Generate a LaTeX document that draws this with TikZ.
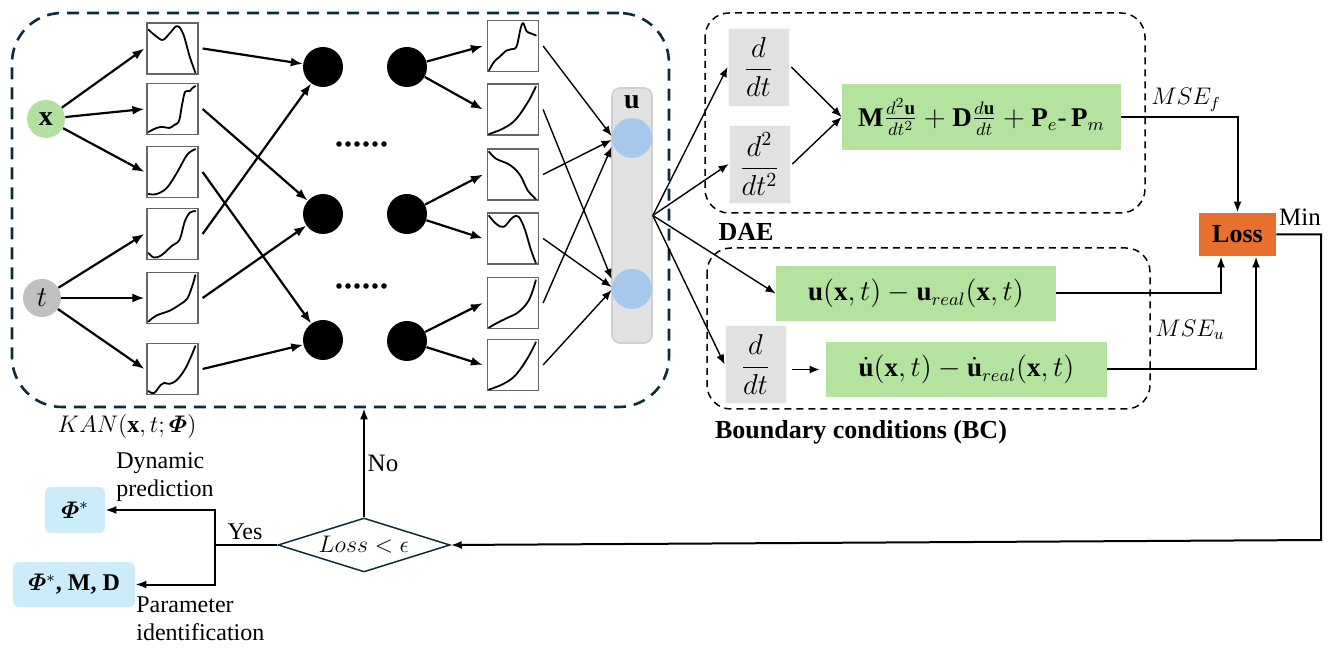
\documentclass[tikz,border=0pt]{standalone}
\usepackage{amsmath,bm}
\usepackage{fontspec}
\setmainfont{Liberation Serif}
\usetikzlibrary{arrows.meta,shapes.geometric,calc}
\definecolor{kgreen}{HTML}{B4E3A0}
\definecolor{xgreen}{HTML}{B3E0A0}
\definecolor{tgray}{HTML}{C0C0C0}
\definecolor{bgray}{HTML}{E1E1E1}
\definecolor{cgray}{HTML}{CFCFCF}
\definecolor{ublue}{HTML}{A6C8EC}
\definecolor{lossor}{HTML}{E8702F}
\definecolor{phiblue}{HTML}{CCECFA}
\definecolor{navy}{HTML}{0E2A3B}
\newcommand\fcurve[2]{\begin{scope}[shift={(#1.south west)},x=25.5pt,y=25.5pt]\draw[kc] plot[smooth,tension=0.6] coordinates {#2};\end{scope}}
\begin{document}
\begin{tikzpicture}[x=0.5pt,y=-0.5pt,
  every node/.style={font=\fontsize{12}{14}\selectfont, inner sep=0pt},
  tarr/.style={line width=1.1pt,-{Latex[length=6pt,width=4.5pt]}},
  narr/.style={line width=0.7pt,-{Latex[length=5pt,width=4pt]}},
  carr/.style={line width=1pt,-{Latex[length=5.5pt,width=4pt]}},
  plainline/.style={line width=1pt},
  fbox/.style={draw=black!60,line width=0.6pt,minimum size=25.5pt,fill=white},
  kc/.style={line width=0.9pt,line cap=round,line join=round},
  bdot/.style={circle,fill=black,minimum size=20pt},
  udot/.style={circle,fill=ublue,minimum size=20pt},
  incirc/.style={circle,minimum size=19pt,font=\fontsize{14}{16}\selectfont},
  gbox/.style={fill=bgray,draw=bgray!85!black!10!white,line width=0.4pt,minimum width=30.5pt,minimum height=39pt,font=\fontsize{14}{16}\selectfont},
  grbox/.style={fill=kgreen,minimum width=140pt,minimum height=27.5pt,font=\fontsize{13.5}{15}\selectfont},
  dashbox/.style={draw,dashed,dash pattern=on 3.5pt off 2.5pt,line width=0.75pt,rounded corners=12pt},
  boldlab/.style={font=\fontsize{13}{15}\selectfont\bfseries}
]
\useasboundingbox (0,0) rectangle (1332,651);

% KAN box
\node[draw=navy,line width=1.3pt,dash pattern=on 6pt off 4pt,rounded corners=25pt,
  minimum width=328.5pt,minimum height=197pt] (kan) at (340.5,210) {};

% inputs
\node[incirc,fill=xgreen] (x) at (46,119) {$\mathbf{x}$};
\node[incirc,fill=tgray] (t) at (42,298) {$t$};

% first function column
\node[fbox] (f1) at (172.5,48.5) {};
\node[fbox] (f2) at (172.5,109) {};
\node[fbox] (f3) at (172.5,172) {};
\node[fbox] (f4) at (172.5,234) {};
\node[fbox] (f5) at (172.5,298) {};
\node[fbox] (f6) at (172.5,369) {};
\fcurve{f1}{(0.04,0.88) (0.18,0.76) (0.32,0.68) (0.45,0.8) (0.6,0.95) (0.72,0.8) (0.85,0.35) (0.96,0.04)}
\fcurve{f2}{(0.04,0.06) (0.2,0.14) (0.32,0.16) (0.45,0.14) (0.55,0.2) (0.64,0.28) (0.7,0.6) (0.76,0.85) (0.85,0.86) (0.9,0.92) (0.96,0.96)}
\fcurve{f3}{(0.04,0.08) (0.2,0.08) (0.4,0.2) (0.6,0.5) (0.8,0.85) (0.96,0.96)}
\fcurve{f4}{(0.04,0.14) (0.15,0.05) (0.3,0.1) (0.5,0.28) (0.65,0.4) (0.75,0.75) (0.85,0.93) (0.96,0.96)}
\fcurve{f5}{(0.04,0.05) (0.2,0.17) (0.45,0.26) (0.65,0.38) (0.8,0.5) (0.9,0.75) (0.96,0.96)}
\fcurve{f6}{(0.04,0.08) (0.15,0.04) (0.28,0.2) (0.35,0.24) (0.45,0.22) (0.6,0.3) (0.78,0.55) (0.96,0.96)}

\draw[tarr] (x) -- ([xshift=-1pt]f1.west);
\draw[tarr] (x) -- ([xshift=-1pt]f2.west);
\draw[tarr] (x) -- ([xshift=-1pt]f3.west);
\draw[tarr] (t) -- ([xshift=-1pt]f4.west);
\draw[tarr] (t) -- ([xshift=-1pt]f5.west);
\draw[tarr] (t) -- ([xshift=-1pt]f6.west);

% hidden nodes
\node[bdot] (c1) at (323,67) {};
\node[bdot] (c2) at (323,214) {};
\node[bdot] (c3) at (323,340) {};
\node[bdot] (d1) at (407,67) {};
\node[bdot] (d2) at (407,214) {};
\node[bdot] (d3) at (407,341) {};
\foreach \i in {0,...,5} {
  \fill (339+\i*9,144) circle (1.4pt);
  \fill (339+\i*9,286) circle (1.4pt);
}

\draw[tarr] ([xshift=2pt]f1.east) -- (c1);
\draw[tarr] ([xshift=2pt]f2.east) -- (c2);
\draw[tarr] ([xshift=2pt]f3.east) -- (c3);
\draw[tarr] ([xshift=2pt]f4.east) -- (c1);
\draw[tarr] ([xshift=2pt]f5.east) -- (c2);
\draw[tarr] ([xshift=2pt]f6.east) -- (c3);

% second function column
\node[fbox] (g1) at (513,46) {};
\node[fbox] (g2) at (513,109.5) {};
\node[fbox] (g3) at (513,174.5) {};
\node[fbox] (g4) at (513,238.5) {};
\node[fbox] (g5) at (513,303) {};
\node[fbox] (g6) at (513,365) {};
\fcurve{g1}{(0.04,0.03) (0.14,0.2) (0.25,0.3) (0.38,0.42) (0.48,0.45) (0.58,0.5) (0.66,0.85) (0.71,0.96) (0.78,0.8) (0.86,0.76) (0.96,0.72)}
\fcurve{g2}{(0.04,0.03) (0.3,0.13) (0.55,0.3) (0.8,0.65) (0.96,0.96)}
\fcurve{g3}{(0.04,0.96) (0.18,0.82) (0.45,0.7) (0.65,0.5) (0.8,0.2) (0.96,0.03)}
\fcurve{g4}{(0.04,0.96) (0.18,0.8) (0.33,0.74) (0.5,0.92) (0.62,0.94) (0.74,0.7) (0.86,0.3) (0.96,0.03)}
\fcurve{g5}{(0.04,0.03) (0.2,0.12) (0.4,0.22) (0.6,0.32) (0.78,0.5) (0.88,0.7) (0.96,0.96)}
\fcurve{g6}{(0.04,0.03) (0.3,0.13) (0.55,0.3) (0.8,0.65) (0.96,0.96)}

\draw[tarr] (d1) -- ([xshift=-2pt]g1.west);
\draw[tarr] (d1) -- ([xshift=-2pt]g2.west);
\draw[tarr] (d2) -- ([xshift=-2pt]g3.west);
\draw[tarr] (d2) -- ([xshift=-2pt]g4.west);
\draw[tarr] (d3) -- ([xshift=-2pt]g5.west);
\draw[tarr] (d3) -- ([xshift=-2pt]g6.west);

% output column
\node[fill=bgray,draw=cgray,line width=0.8pt,rounded corners=4pt,minimum width=20pt,minimum height=127.5pt] (ucol) at (632,215.5) {};
\node[font=\fontsize{14}{16}\selectfont] (ulab) at (632,102) {$\mathbf{u}$};
\node[udot] (u1) at (632,138) {};
\node[udot] (u2) at (632,289) {};

\draw[narr] ([xshift=2pt]g1.east) -- ([yshift=1pt]u1.west);
\draw[narr] ([xshift=2pt]g2.east) -- ([yshift=5pt]u2.west);
\draw[narr] ([xshift=2pt]g3.east) -- ([yshift=-1pt]u1.west);
\draw[narr] ([xshift=2pt]g4.east) -- ([yshift=1pt]u2.west);
\draw[narr] ([xshift=2pt]g5.east) -- ([yshift=-4.5pt]u1.west);
\draw[narr] ([xshift=2pt]g6.east) -- ([yshift=-0.5pt]u2.west);

% DAE block
\draw[dashbox] (705,13) rectangle (1145,213);
\node[gbox] (dd1) at (758.5,67) {$\displaystyle\frac{d}{dt}$};
\node[gbox] (dd2) at (759.5,164) {$\displaystyle\frac{d^2}{dt^2}$};
\node[grbox,minimum width=139.5pt,minimum height=33pt] (eq) at (981.5,117)
  {$\mathbf{M}\frac{d^2\mathbf{u}}{dt^2}+\mathbf{D}\frac{d\mathbf{u}}{dt}+\mathbf{P}_e$-\,$\mathbf{P}_m$};
\node[boldlab] (daelab) at (746,232) {DAE};

% BC block
\draw[dashbox] (707,248) rectangle (1150,409);
\node[grbox] (bc1) at (916,293.5) {$\mathbf{u}(\mathbf{x},t)-\mathbf{u}_{real}(\mathbf{x},t)$};
\node[gbox] (dd3) at (755.5,364.5) {$\displaystyle\frac{d}{dt}$};
\node[grbox,minimum width=140.5pt] (bc2) at (966.5,369.5) {$\dot{\mathbf{u}}(\mathbf{x},t)-\dot{\mathbf{u}}_{real}(\mathbf{x},t)$};
\node[boldlab] (bclab) at (861,432) {Boundary conditions (BC)};

% fan out
\coordinate (fan) at (ucol.east);
\draw[narr] (fan) -- (dd1.west);
\draw[narr] (fan) -- (dd2.west);
\draw[narr] (fan) -- (bc1.west);
\draw[narr] (fan) -- (dd3.west);
\draw[narr] ([xshift=1pt]dd1.east) -- (eq.west);
\draw[narr] ([xshift=1pt]dd2.east) -- (eq.west);
\draw[narr] ([xshift=3pt]dd3.east |- bc2.west) -- ([xshift=-3pt]bc2.west);

% loss
\node[fill=lossor,minimum width=38.5pt,minimum height=21.5pt,font=\fontsize{13}{15}\selectfont\bfseries] (loss) at (1237.5,234.5) {Loss};
\draw[carr] (eq.east) -| (loss.north);
\draw[carr] (bc1.east) -| ([xshift=-8.25pt]loss.south);
\draw[carr] (bc2.east) -| ([xshift=9.25pt]loss.south);
\node (msef) at (1186,100) {$MSE_f$};
\node (mseu) at (1190,330) {$MSE_u$};
\node[font=\fontsize{12.5}{14}\selectfont] (minlab) at (1300,217) {Min};

% decision
\node[diamond,draw=navy,line width=0.75pt,aspect=3.2,minimum width=86pt,minimum height=27pt] (dia) at (364,545) {$Loss<\epsilon$};
\coordinate (rc) at (1321,540);
\draw[carr] (loss.east) -| (rc) -- (dia.east);
\draw[carr] (dia.north) -- (dia.north |- kan.south);
\node[font=\fontsize{12.5}{14}\selectfont] (nolab) at (383,463) {No};
\node (kanlab) at (127,427) {$KAN(\mathbf{x},t;\boldsymbol{\varPhi})$};

\node[fill=phiblue,rounded corners=3pt,minimum width=30pt,minimum height=23pt] (phi1) at (75,510) {$\boldsymbol{\varPhi}^*$};
\node[fill=phiblue,rounded corners=3pt,minimum width=61pt,minimum height=22.5pt] (phi2) at (74,584.5) {$\boldsymbol{\varPhi}^*$\textbf{, M, D}};
\coordinate (yb) at (215,545);
\draw[plainline] (dia.west) -- (yb);
\draw[carr] (yb) |- (phi1.east);
\draw[carr] (yb) |- (phi2.east);
\node (yeslab) at (245,532) {Yes};
\node[align=left,anchor=west] (dynlab) at (116,477) {Dynamic\\prediction};
\node[align=left,anchor=west] (parlab) at (136,619) {Parameter\\identification};
\end{tikzpicture}
\end{document}
